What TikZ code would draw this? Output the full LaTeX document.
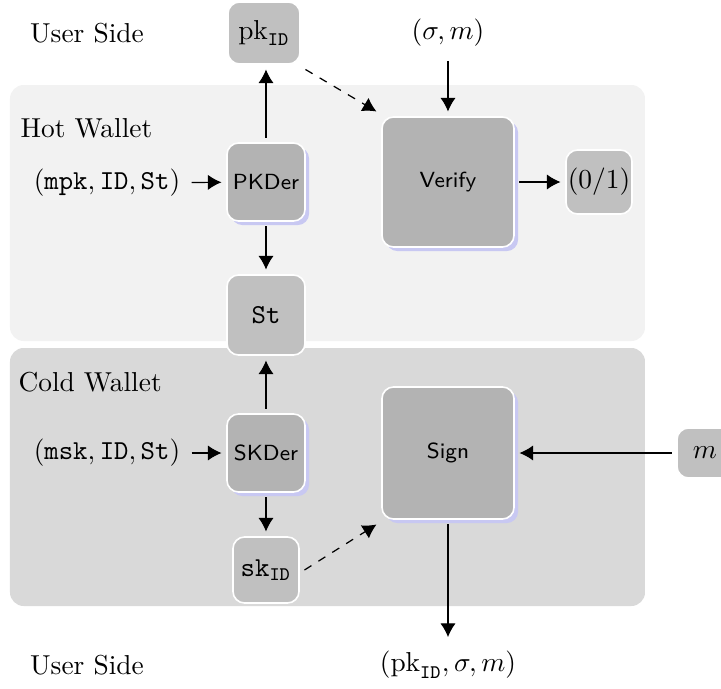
\documentclass[tikz,border=0pt]{standalone}
\usetikzlibrary{shadows,arrows.meta}
\definecolor{hotbg}{HTML}{F2F2F2}
\definecolor{coldbg}{HTML}{D9D9D9}
\definecolor{boxdark}{HTML}{B3B3B3}
\definecolor{boxlight}{HTML}{C0C0C0}
\definecolor{shadowc}{HTML}{C8C8F2}
\begin{document}
\begin{tikzpicture}[x=0.365pt,y=-0.365pt,
  >={Latex[length=5pt,width=5.6pt]},
  conn/.style={->,line width=0.45pt},
  lbl/.style={inner sep=0pt},
  basebox/.style={rounded corners=4.2pt,draw=white,line width=0.6pt,outer sep=2pt,inner sep=0pt},
  procbox/.style={basebox,fill=boxdark,font=\footnotesize\sffamily,
    copy shadow={shadow xshift=1.5pt,shadow yshift=-1.5pt,fill=shadowc,draw=none}},
  valbox/.style={basebox,fill=boxlight}]
\useasboundingbox (0,0) rectangle (721,689);
\fill[hotbg,rounded corners=5pt] (10,85) rectangle (645,341);
\fill[coldbg,rounded corners=5pt] (10,348) rectangle (645,606);
\node[lbl] (us1) at (87,33) {User Side};
\node[lbl] (us2) at (87,665) {User Side};
\node[lbl,anchor=west] (hot) at (20,128) {Hot Wallet};
\node[lbl,anchor=west] (cold) at (18,382) {Cold Wallet};
\node[valbox,minimum width=72*0.365pt,minimum height=62*0.365pt] (pkid) at (264,33) {$\mathrm{pk}_{\mathtt{ID}}$};
\node[procbox,minimum width=78*0.365pt,minimum height=78*0.365pt] (pkder) at (266,182) {PKDer};
\node[valbox,minimum width=78*0.365pt,minimum height=80*0.365pt] (st) at (266,315) {$\mathtt{St}$};
\node[procbox,minimum width=78*0.365pt,minimum height=78*0.365pt] (skder) at (266,453) {SKDer};
\node[valbox,minimum width=66*0.365pt,minimum height=66*0.365pt] (skid) at (266,570) {$\mathtt{sk}_{\mathtt{ID}}$};
\node[procbox,minimum width=132*0.365pt,minimum height=130*0.365pt] (verify) at (448,182) {Verify};
\node[procbox,minimum width=132*0.365pt,minimum height=132*0.365pt] (sign) at (448,453) {Sign};
\node[valbox,minimum width=66*0.365pt,minimum height=64*0.365pt] (out) at (599,182) {$(0/1)$};
\node[valbox,minimum width=56*0.365pt,minimum height=50*0.365pt] (m) at (705,453) {$m$};
\node[lbl] (sigm) at (448,33) {$(\sigma,m)$};
\node[lbl] (mpk) at (107,183) {$(\mathtt{mpk},\mathtt{ID},\mathtt{St})$};
\node[lbl] (msk) at (107,453) {$(\mathtt{msk},\mathtt{ID},\mathtt{St})$};
\node[lbl] (outp) at (448,665) {$(\mathrm{pk}_{\mathtt{ID}},\sigma,m)$};
\draw[conn,shorten <=4pt] (mpk) -- (pkder);
\draw[conn,shorten <=4pt] (msk) -- (skder);
\draw[conn] (pkder) -- (pkder |- pkid.south);
\draw[conn] (pkder) -- (st);
\draw[conn] (skder) -- (st);
\draw[conn] (skder) -- (skid);
\draw[conn,shorten <=5pt] (sigm) -- (verify);
\draw[conn] (verify) -- (out);
\draw[conn] (m) -- (sign);
\draw[conn,shorten >=5pt] (sign) -- (outp);
\draw[conn,dashed] (pkid.south east) -- (verify.north west);
\draw[conn,dashed] (skid.east) -- (sign.south west);
\end{tikzpicture}
\end{document}
